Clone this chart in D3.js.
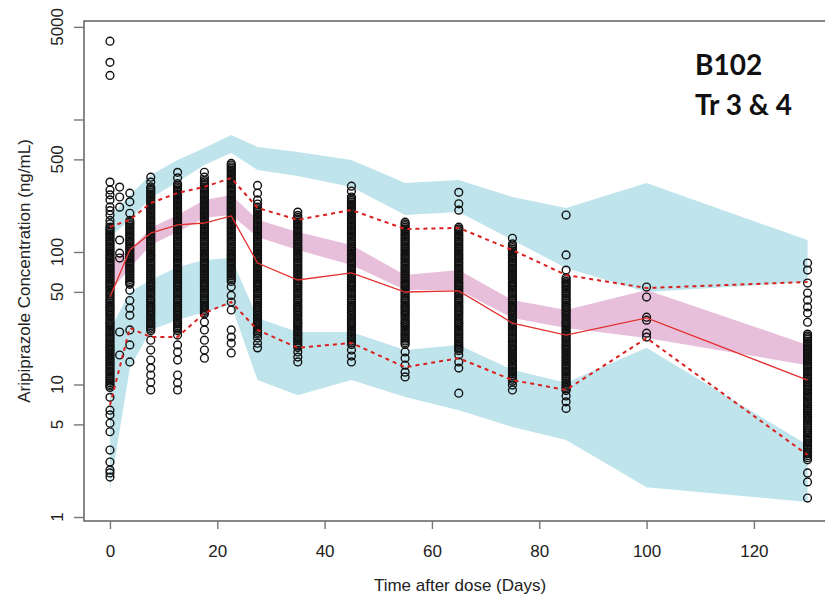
<!DOCTYPE html>
<html>
<head>
<meta charset="utf-8">
<script src="https://cdn.jsdelivr.net/npm/d3@7"></script>
<style>
body { margin: 0; background: #fff; }
svg { display: block; font-family: "Liberation Sans", Arial, sans-serif; }
</style>
</head>
<body>
<div id="vpc"></div>
<script>
// bin times (days)
const binTimes = [0, 3.7, 7.6, 12.6, 17.6, 22.6, 27.5, 35, 45, 55, 65, 75, 85, 100, 130];

// observed percentiles (ng/mL)
const obsMedian = [45.7, 103.5, 139, 160, 165.5, 187, 82.6, 61.5, 69.5, 49.9, 50.8, 29.1, 23.6, 31.8, 10.8];
const obsP95 = [154.5, 175, 234, 279, 310, 362, 215, 175, 207.5, 149, 152, 103.5, 67, 53.5, 59.4];
const obsP05 = [7.0, 26.7, 22.8, 22.8, 34.6, 42, 25.8, 18.9, 20.6, 13.5, 15.8, 10.8, 9.1, 22.4, 2.94];

// simulated confidence intervals
const p95Lo = [130, 175, 256, 337, 454, 559, 416, 375, 310, 190, 200, 123, 75.7, 49.9, 59.4];
const p95Hi = [183.7, 269, 381, 495, 609, 764, 620, 569, 495, 332, 349, 260, 215, 332, 123];
const medLo = [49.9, 75.7, 113, 141.6, 181, 190, 130, 103.5, 79.8, 51.7, 51.7, 31.8, 26.7, 22.4, 14.0];
const medHi = [84, 103.5, 152, 190, 247, 269, 175, 141.6, 113, 67, 73.1, 43.4, 36.5, 51.7, 19.9];
const p05Lo = [1.6, 13.3, 25.8, 30.7, 35.3, 39.8, 10.8, 8.3, 10.8, 8.05, 6.4, 4.78, 3.81, 1.68, 1.3];
const p05Hi = [25.8, 49.9, 61.5, 77.1, 87, 90.1, 31.8, 24.9, 24.9, 18.2, 19.9, 12.9, 10.3, 18.9, 3.5];

// observations: sampling time and concentrations at that time
const obsTimes = [0, 1.8, 3.7, 7.6, 12.6, 17.6, 22.6, 27.5, 35, 45, 55, 65, 75, 85, 100, 130];
const obsConc = [
  [3900, 2700, 2150, 337, 294, 270, 247, 219, 205, 190, 173, 163, 154, 145, 137, 129, 122, 115, 108, 102, 96, 91, 86, 81, 76, 72, 68, 64, 60, 57, 54, 51, 48, 45, 42.5, 40, 38, 36, 34, 32, 30, 28.6, 27, 25.4, 24, 22.6, 21.3, 20, 19, 18, 17, 16, 15.2, 14.3, 13.5, 12.7, 12, 11.3, 10.6, 10, 9.5, 8.0, 6.4, 5.9, 5.1, 4.4, 3.2, 2.6, 2.26, 2.15, 2.0],
  [309, 260, 218, 123, 98, 90, 24.9, 16.7],
  [278, 239, 196, 173, 163, 154, 145, 137, 129, 122, 115, 108, 102, 96, 91, 86, 81, 76, 72, 68, 64, 60, 57, 51.5, 43, 37.7, 33.3, 25.8, 19.9, 14.8],
  [367, 337, 310, 292, 275, 260, 245, 231, 218, 206, 194, 183, 173, 163, 154, 145, 137, 129, 122, 115, 108, 102, 96, 91, 86, 81, 76, 72, 68, 64, 60, 57, 54, 51, 48, 45, 42.5, 40, 38, 36, 34, 32, 30, 28.6, 27, 25.4, 21.6, 18.2, 15.3, 13.3, 11.8, 10.4, 9.1],
  [399, 362, 328, 310, 292, 275, 260, 245, 231, 218, 206, 194, 183, 173, 163, 154, 145, 137, 129, 122, 115, 108, 102, 96, 91, 86, 81, 76, 72, 68, 64, 60, 57, 54, 51, 48, 45, 42.5, 40, 38, 36, 34, 32, 30, 28.6, 27, 25.4, 23.6, 19.9, 17.6, 15.3, 11.8, 10.3, 9.1],
  [400, 367, 348, 328, 310, 292, 275, 260, 245, 231, 218, 206, 194, 183, 173, 163, 154, 145, 137, 129, 122, 115, 108, 102, 96, 91, 86, 81, 76, 72, 68, 64, 60, 57, 54, 51, 48, 45, 42.5, 40, 38, 36, 34, 29.6, 25.8, 21.6, 18.2, 15.8],
  [466, 440, 415, 391, 369, 348, 328, 310, 292, 275, 260, 245, 231, 218, 206, 194, 183, 173, 163, 154, 145, 137, 129, 122, 115, 108, 102, 96, 91, 86, 81, 76, 72, 68, 64, 60, 54.6, 47, 41.9, 36.5, 25.8, 22.8, 20.5, 17.3],
  [318, 278, 247, 230, 218, 206, 194, 183, 173, 163, 154, 145, 137, 129, 122, 115, 108, 102, 96, 91, 86, 81, 76, 72, 68, 64, 60, 57, 54, 51, 48, 45, 42.5, 40, 38, 36, 34, 32, 30, 28.6, 27, 25.4, 24, 22.4, 20.5, 18.9],
  [200, 189, 183, 173, 163, 154, 145, 137, 129, 122, 115, 108, 102, 96, 91, 86, 81, 76, 72, 68, 64, 60, 57, 54, 51, 48, 45, 42.5, 40, 38, 36, 34, 32, 30, 28.6, 27, 25.4, 24, 22.6, 21.3, 20, 19, 17.6, 16.1, 14.8],
  [314, 288, 260, 245, 231, 218, 206, 194, 183, 173, 163, 154, 145, 137, 129, 122, 115, 108, 102, 96, 91, 86, 81, 76, 72, 68, 64, 60, 57, 54, 51, 48, 45, 42.5, 40, 38, 36, 34, 32, 30, 28.6, 27, 25.4, 24, 22.6, 21.3, 20, 18.2, 16.4, 14.8],
  [168, 163, 154, 145, 137, 129, 122, 115, 108, 102, 96, 91, 86, 81, 76, 72, 68, 64, 60, 57, 54, 51, 48, 45, 42.5, 40, 38, 36, 34, 32, 30, 28.6, 27, 25.4, 24, 22.6, 21.3, 20, 17.6, 15.8, 14.0, 12.4, 11.4],
  [282, 231, 207, 154, 145, 137, 129, 122, 115, 108, 102, 96, 91, 86, 81, 76, 72, 68, 64, 60, 57, 54, 51, 48, 45, 42.5, 40, 38, 36, 34, 32, 30, 28.6, 27, 25.4, 24, 22.6, 21.3, 20, 19, 18, 16.7, 14.8, 13.3, 8.6],
  [127, 115, 108, 102, 96, 91, 86, 81, 76, 72, 68, 64, 60, 57, 54, 51, 48, 45, 42.5, 40, 38, 36, 34, 32, 30, 28.6, 27, 25.4, 24, 22.6, 21.3, 20, 19, 18, 17, 16, 15.2, 14.3, 13.5, 12.7, 12, 11.3, 10.6, 9.9, 9.1],
  [190, 95, 73, 64, 60, 57, 54, 51, 48, 45, 42.5, 40, 38, 36, 34, 32, 30, 28.6, 27, 25.4, 24, 22.6, 21.3, 20, 19, 18, 17, 16, 15.2, 14.3, 13.5, 12.7, 12, 11.3, 10.6, 10, 9.5, 9.0, 8.2, 7.4, 6.6],
  [54.4, 45.7, 32.2, 30.6, 24.4, 22.8],
  [82.6, 73, 58.3, 49, 43.3, 38.5, 34.6, 29.5, 24, 22.6, 21.3, 20, 19, 18, 17, 16, 15.2, 14.3, 13.5, 12.7, 12, 11.3, 10.6, 10, 9.5, 9.0, 8.5, 8.0, 7.5, 7.1, 6.7, 6.3, 5.9, 5.6, 5.3, 5.0, 4.7, 4.4, 4.1, 3.9, 3.7, 3.5, 3.3, 3.1, 2.9, 2.7, 2.15, 1.84, 1.39]
];
// more observations in the crowded part of each time column
const obsConcMore = [
  [149.5, 141, 133, 125.5, 118.5, 111.5, 105, 99, 93.5, 88.5, 83.5, 78.5, 74, 70, 66, 62, 58.5, 55.5, 52.5, 49.5, 46.5, 43.7, 41.2, 39, 37, 35, 33, 31, 29.3, 27.8, 26.2, 24.7, 23.3, 21.95, 20.65, 19.5, 18.5, 17.5, 16.5, 15.6, 14.75, 13.9, 13.1, 12.35, 11.65, 10.95, 10.3, 9.75],
  [],
  [168, 158.5, 149.5, 141, 133, 125.5, 118.5, 111.5, 105, 99, 93.5, 88.5, 83.5, 78.5, 74, 70, 66, 62, 58.5],
  [301, 283.5, 267.5, 252.5, 238, 224.5, 212, 200, 188.5, 178, 168, 158.5, 149.5, 141, 133, 125.5, 118.5, 111.5, 105, 99, 93.5, 88.5, 83.5, 78.5, 74, 70, 66, 62, 58.5, 55.5, 52.5, 49.5, 46.5, 43.7, 41.2, 39, 37, 35, 33, 31, 29.3, 27.8, 26.2],
  [319, 301, 283.5, 267.5, 252.5, 238, 224.5, 212, 200, 188.5, 178, 168, 158.5, 149.5, 141, 133, 125.5, 118.5, 111.5, 105, 99, 93.5, 88.5, 83.5, 78.5, 74, 70, 66, 62, 58.5, 55.5, 52.5, 49.5, 46.5, 43.7, 41.2, 39, 37, 35, 33, 31, 29.3, 27.8, 26.2],
  [338, 319, 301, 283.5, 267.5, 252.5, 238, 224.5, 212, 200, 188.5, 178, 168, 158.5, 149.5, 141, 133, 125.5, 118.5, 111.5, 105, 99, 93.5, 88.5, 83.5, 78.5, 74, 70, 66, 62, 58.5, 55.5, 52.5, 49.5, 46.5, 43.7, 41.2, 39, 37, 35],
  [453, 427.5, 403, 380, 358.5, 338, 319, 301, 283.5, 267.5, 252.5, 238, 224.5, 212, 200, 188.5, 178, 168, 158.5, 149.5, 141, 133, 125.5, 118.5, 111.5, 105, 99, 93.5, 88.5, 83.5, 78.5, 74, 70, 66, 62],
  [212, 200, 188.5, 178, 168, 158.5, 149.5, 141, 133, 125.5, 118.5, 111.5, 105, 99, 93.5, 88.5, 83.5, 78.5, 74, 70, 66, 62, 58.5, 55.5, 52.5, 49.5, 46.5, 43.7, 41.2, 39, 37, 35, 33, 31, 29.3, 27.8, 26.2, 24.7],
  [178, 168, 158.5, 149.5, 141, 133, 125.5, 118.5, 111.5, 105, 99, 93.5, 88.5, 83.5, 78.5, 74, 70, 66, 62, 58.5, 55.5, 52.5, 49.5, 46.5, 43.7, 41.2, 39, 37, 35, 33, 31, 29.3, 27.8, 26.2, 24.7, 23.3, 21.95, 20.65, 19.5],
  [252.5, 238, 224.5, 212, 200, 188.5, 178, 168, 158.5, 149.5, 141, 133, 125.5, 118.5, 111.5, 105, 99, 93.5, 88.5, 83.5, 78.5, 74, 70, 66, 62, 58.5, 55.5, 52.5, 49.5, 46.5, 43.7, 41.2, 39, 37, 35, 33, 31, 29.3, 27.8, 26.2, 24.7, 23.3, 21.95, 20.65],
  [158.5, 149.5, 141, 133, 125.5, 118.5, 111.5, 105, 99, 93.5, 88.5, 83.5, 78.5, 74, 70, 66, 62, 58.5, 55.5, 52.5, 49.5, 46.5, 43.7, 41.2, 39, 37, 35, 33, 31, 29.3, 27.8, 26.2, 24.7, 23.3, 21.95, 20.65],
  [149.5, 141, 133, 125.5, 118.5, 111.5, 105, 99, 93.5, 88.5, 83.5, 78.5, 74, 70, 66, 62, 58.5, 55.5, 52.5, 49.5, 46.5, 43.7, 41.2, 39, 37, 35, 33, 31, 29.3, 27.8, 26.2, 24.7, 23.3, 21.95, 20.65, 19.5, 18.5],
  [111.5, 105, 99, 93.5, 88.5, 83.5, 78.5, 74, 70, 66, 62, 58.5, 55.5, 52.5, 49.5, 46.5, 43.7, 41.2, 39, 37, 35, 33, 31, 29.3, 27.8, 26.2, 24.7, 23.3, 21.95, 20.65, 19.5, 18.5, 17.5, 16.5, 15.6, 14.75, 13.9, 13.1, 12.35, 11.65, 10.95],
  [62, 58.5, 55.5, 52.5, 49.5, 46.5, 43.7, 41.2, 39, 37, 35, 33, 31, 29.3, 27.8, 26.2, 24.7, 23.3, 21.95, 20.65, 19.5, 18.5, 17.5, 16.5, 15.6, 14.75, 13.9, 13.1, 12.35, 11.65, 10.95, 10.3, 9.75, 9.25],
  [],
  [23.3, 21.95, 20.65, 19.5, 18.5, 17.5, 16.5, 15.6, 14.75, 13.9, 13.1, 12.35, 11.65, 10.95, 10.3, 9.75, 9.25, 8.75, 8.25, 7.75, 7.3, 6.9, 6.5, 6.1, 5.75, 5.45, 5.15, 4.85, 4.55, 4.25, 4.0, 3.8, 3.6, 3.4, 3.2, 3.0, 2.8]
];

// axis ticks
const xTicks = [0, 20, 40, 60, 80, 100, 120];
const yTicks = [1, 5, 10, 50, 100, 500, 1000, 5000];
const yTickLabels = ["1", "5", "10", "50", "100", "500", "", "5000"];

const width = 825, height = 600;
const box = {left: 84, top: 21, right: 836, bottom: 521};

const svg = d3.select("#vpc").append("svg")
    .attr("width", width)
    .attr("height", height);

const x = d3.scaleLinear().domain([-4.84, 135.3]).range([box.left, box.right]);
const y = d3.scaleLog().domain([0.933, 5538]).range([box.bottom, box.top]);

svg.append("clipPath").attr("id", "plotclip")
  .append("rect")
    .attr("x", box.left).attr("y", box.top)
    .attr("width", box.right - box.left).attr("height", box.bottom - box.top);

const plot = svg.append("g").attr("clip-path", "url(#plotclip)");

function band(lo, hi) {
  return d3.area()
    .x((d, i) => x(binTimes[i]))
    .y0((d, i) => y(lo[i]))
    .y1((d, i) => y(hi[i]))(binTimes);
}

plot.append("path").attr("d", band(p95Lo, p95Hi)).attr("fill", "#bfe4ec");
plot.append("path").attr("d", band(p05Lo, p05Hi)).attr("fill", "#bfe4ec");
plot.append("path").attr("d", band(medLo, medHi)).attr("fill", "#e8bfda");

// observations
const points = [];
obsTimes.forEach((t, i) => {
  obsConc[i].forEach(c => points.push({t: t, c: c}));
  obsConcMore[i].forEach(c => points.push({t: t, c: c}));
});

plot.append("g")
  .selectAll("circle")
  .data(points)
  .join("circle")
    .attr("cx", d => x(d.t))
    .attr("cy", d => y(d.c))
    .attr("r", 3.9)
    .attr("fill", "none")
    .attr("stroke", "#111")
    .attr("stroke-width", 1.4);

// observed percentile lines
const line = d3.line().x((d, i) => x(binTimes[i])).y(d => y(d));

plot.append("path").attr("d", line(obsP95))
    .attr("fill", "none").attr("stroke", "#d9221f")
    .attr("stroke-width", 2).attr("stroke-dasharray", "4,4");
plot.append("path").attr("d", line(obsP05))
    .attr("fill", "none").attr("stroke", "#d9221f")
    .attr("stroke-width", 2).attr("stroke-dasharray", "4,4");
plot.append("path").attr("d", line(obsMedian))
    .attr("fill", "none").attr("stroke", "#e2312f")
    .attr("stroke-width", 1.3);

// box
svg.append("rect")
    .attr("x", box.left).attr("y", box.top)
    .attr("width", box.right - box.left).attr("height", box.bottom - box.top)
    .attr("fill", "none").attr("stroke", "#555").attr("stroke-width", 1.4);

// x axis
const xAxis = svg.append("g")
    .attr("transform", "translate(0," + box.bottom + ")")
    .call(d3.axisBottom(x).tickValues(xTicks).tickSize(8).tickPadding(16).tickFormat(d3.format("d")));
xAxis.select(".domain").remove();
xAxis.selectAll(".tick line").attr("stroke", "#777").attr("stroke-width", 1.4);
xAxis.selectAll(".tick text")
    .style("font-size", "17px")
    .style("font-family", "'Liberation Sans', Arial, sans-serif")
    .attr("fill", "#222");

// y axis
const yAxis = svg.append("g")
    .attr("transform", "translate(" + box.left + ",0)")
    .call(d3.axisLeft(y).tickValues(yTicks).tickSize(10).tickFormat(""));
yAxis.select(".domain").remove();
yAxis.selectAll(".tick line").attr("stroke", "#777").attr("stroke-width", 1.4);

svg.append("g")
  .selectAll("text")
  .data(yTicks)
  .join("text")
    .attr("transform", d => "translate(63," + y(d) + ") rotate(-90)")
    .attr("text-anchor", "middle")
    .style("font-size", "17px")
    .attr("fill", "#222")
    .text((d, i) => yTickLabels[i]);

// axis titles
svg.append("text")
    .attr("x", (box.left + box.right) / 2)
    .attr("y", 591)
    .attr("text-anchor", "middle")
    .style("font-size", "17px")
    .attr("fill", "#222")
    .text("Time after dose (Days)");

svg.append("text")
    .attr("transform", "translate(30," + (box.top + box.bottom) / 2 + ") rotate(-90)")
    .attr("text-anchor", "middle")
    .style("font-size", "17px")
    .attr("fill", "#222")
    .text("Aripiprazole Concentration (ng/mL)");

// study label
const label = svg.append("g")
    .style("font-family", "Lato, 'Open Sans', sans-serif")
    .style("font-weight", "700")
    .style("font-size", "28px")
    .attr("fill", "#111");
label.append("text").attr("x", 695).attr("y", 75).text("B102");
label.append("text").attr("x", 695).attr("y", 115).text("Tr 3 & 4");
</script>
</body>
</html>
